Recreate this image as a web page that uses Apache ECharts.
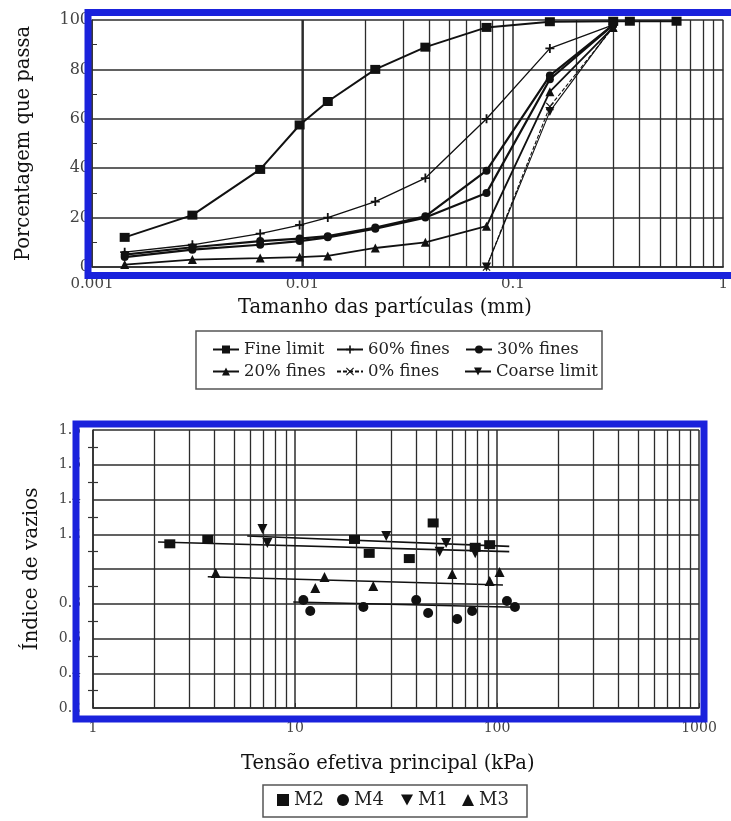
<!DOCTYPE html>
<html><head><meta charset="utf-8">
<script src="https://cdn.jsdelivr.net/npm/echarts@6/dist/echarts.min.js"></script>
<style>html,body{margin:0;padding:0;background:#fff}#c{width:731px;height:821px}</style>
</head><body><div id="c"></div>
<script>
// ---------- top chart: grain size distribution ----------
const sizes       = [0.00143, 0.0030, 0.0063, 0.0097, 0.0132, 0.0222, 0.0384, 0.075, 0.15, 0.3, 0.36, 0.6];
const fineLimit   = [12, 21, 39.5, 57.5, 67, 80, 89, 97, 99.3, 99.5, 99.5, 99.5];
const fines60     = [6, 9, 13.5, 17, 20, 26.5, 36, 60, 88.5, 98, null, null];
const fines30     = [4, 7, 9, 10.5, 12, 15.5, 20, 30, 76, 98, null, null];
const finesOther  = [5, 8, 10.5, 11.5, 12.5, 16, 20.5, 39, 77.5, 98, null, null];
const fines20     = [1, 3, 3.6, 4, 4.5, 7.7, 10, 16.5, 71, 97, null, null];
const fines0      = [null, null, null, null, null, null, null, 0, 65, 97, null, null];
const coarseLimit = [null, null, null, null, null, null, null, 0, 63, 97.5, null, null];
const topXTicks = ['0.001', '0.01', '0.1', '1'];
const topYTicks = ['0', '20', '40', '60', '80', '100'];
const topDecades = [0.001, 0.01, 0.1];

// ---------- bottom chart: void ratio vs effective stress ----------
const m2Stress = [2.4, 3.7, 19.7, 23.3, 36.8, 48.3, 78, 92];
const m2Void   = [1.145, 1.17, 1.17, 1.09, 1.06, 1.265, 1.125, 1.14];
const m4Stress = [11.0, 11.9, 21.8, 39.8, 45.6, 63.5, 75.3, 112, 122.7];
const m4Void   = [0.822, 0.758, 0.781, 0.822, 0.747, 0.712, 0.758, 0.816, 0.781];
const m1Stress = [6.9, 7.3, 28.3, 52, 56, 78];
const m1Void   = [1.23, 1.15, 1.19, 1.10, 1.15, 1.09];
const m3Stress = [4.05, 12.6, 14.0, 24.4, 60, 92, 103];
const m3Void   = [0.977, 0.891, 0.954, 0.902, 0.971, 0.931, 0.983];
const m2TrendStress = [2.1, 115],  m2TrendVoid = [1.155, 1.10];
const m1TrendStress = [5.8, 115],  m1TrendVoid = [1.19, 1.13];
const m3TrendStress = [3.7, 107],  m3TrendVoid = [0.955, 0.908];
const m4TrendStress = [9.8, 125],  m4TrendVoid = [0.81, 0.78];
const botXTicks = ['1', '10', '100', '1000'];
const botYTicks = ['0.2', '0.4', '0.6', '0.8', '', '1.2', '1.4', '1.6', '1.8'];
const botDecades = [1, 10, 100];
const minorMult = [2, 3, 4, 5, 6, 7, 8, 9];

const serif = '"DejaVu Serif", "Liberation Serif", serif';
const ink = '#111';
const gridCol = '#2c2c2c';
const blue = '#1a22dc';

const pairs = (xs, ys) => xs.map((x, i) => ys[i] == null ? null : [x, ys[i]]).filter(p => p);
const minorLines = decs => {
  const out = [];
  decs.forEach(d => minorMult.forEach(m => out.push({ xAxis: d * m })));
  return out;
};
const vLines = decs => ({
  silent: true, symbol: ['none', 'none'], label: { show: false },
  lineStyle: { color: gridCol, width: 1.3, type: 'solid' },
  emphasis: { disabled: true }, animation: false,
  data: minorLines(decs)
});

const plusPath = 'path://M4,0h2v4h4v2h-4v4h-2v-4h-4v-2h4z';
const xPath = 'path://M1,0L5,4L9,0L10,1L6,5L10,9L9,10L5,6L1,10L0,9L4,5L0,1Z';
const downTri = 'path://M0,0L10,0L5,9Z';

function topLine(name, ys, symbol, size, width, extra) {
  return Object.assign({
    name, type: 'line', xAxisIndex: 0, yAxisIndex: 0,
    data: pairs(sizes, ys), symbol, symbolSize: size,
    itemStyle: { color: ink }, lineStyle: { color: ink, width },
    z: 5
  }, extra || {});
}
function trend(xs, ys) {
  return { type: 'line', xAxisIndex: 1, yAxisIndex: 2, data: pairs(xs, ys), symbol: 'none',
    lineStyle: { color: ink, width: 1.6 }, silent: true, z: 4 };
}
function scat(name, xs, ys, symbol, size) {
  return { name, type: 'scatter', xAxisIndex: 1, yAxisIndex: 2, data: pairs(xs, ys),
    symbol, symbolSize: size, itemStyle: { color: ink, opacity: 1 }, z: 6 };
}
function leg(name, left, top, w, h, fs) {
  return { data: [name], left, top, padding: 0, itemGap: 0, itemWidth: w, itemHeight: h,
    selectedMode: false, textStyle: { fontFamily: serif, fontSize: fs, color: '#222' } };
}
const labelStyle = { fontFamily: serif, color: '#444' };

const option = {
  animation: false,
  backgroundColor: '#fff',
  textStyle: { fontFamily: serif },
  title: [
    { text: 'Tamanho das partículas (mm)', left: 233, top: 293,
      textStyle: { fontFamily: serif, fontSize: 19.5, fontWeight: 'normal', color: ink } },
    { text: 'Tensão efetiva principal (kPa)', left: 236, top: 749,
      textStyle: { fontFamily: serif, fontSize: 19.5, fontWeight: 'normal', color: ink } }
  ],
  grid: [
    { left: 92, top: 20, width: 639, height: 247 },
    { left: 93, top: 430, width: 606, height: 278 }
  ],
  xAxis: [
    { gridIndex: 0, type: 'log', logBase: 10, min: 0.001, max: 1,
      axisLine: { show: true, onZero: false, lineStyle: { color: gridCol, width: 1.5 } },
      axisTick: { show: false },
      axisLabel: Object.assign({ margin: 10, fontSize: 15,
        formatter: v => topXTicks[Math.round(Math.log10(v)) + 3] }, labelStyle),
      splitLine: { show: true, lineStyle: { color: gridCol, width: 1.5 } } },
    { gridIndex: 1, type: 'log', logBase: 10, min: 1, max: 1000,
      axisLine: { show: true, onZero: false, lineStyle: { color: gridCol, width: 1.5 } },
      axisTick: { show: true, inside: true, length: 5, lineStyle: { color: gridCol } },
      axisLabel: Object.assign({ margin: 13, fontSize: 14,
        formatter: v => botXTicks[Math.round(Math.log10(v))] }, labelStyle),
      splitLine: { show: true, lineStyle: { color: gridCol, width: 1.5 } } }
  ],
  yAxis: [
    { gridIndex: 0, type: 'value', min: 0, max: 100, interval: 20,
      name: 'Porcentagem que passa', nameLocation: 'middle', nameGap: 58, nameRotate: 90,
      nameTextStyle: { fontFamily: serif, fontSize: 19.5, color: ink },
      axisLine: { show: true, lineStyle: { color: gridCol, width: 1.5 } },
      axisTick: { show: false, inside: true },
      minorTick: { show: true, splitNumber: 2, length: 5, lineStyle: { color: '#333', width: 1 } },
      axisLabel: Object.assign({ margin: 2, fontSize: 16,
        formatter: v => topYTicks[Math.round(v / 20)] }, labelStyle),
      splitLine: { show: true, lineStyle: { color: gridCol, width: 1.5 } } },
    { gridIndex: 0, type: 'value', min: 0, max: 100, interval: 20, show: false },
    { gridIndex: 1, type: 'value', min: 0.2, max: 1.8, interval: 0.2,
      name: 'Índice de vazios', nameLocation: 'middle', nameGap: 51, nameRotate: 90,
      nameTextStyle: { fontFamily: serif, fontSize: 20, color: ink },
      axisLine: { show: true, lineStyle: { color: gridCol, width: 1.5 } },
      axisTick: { show: false },
      minorTick: { show: true, splitNumber: 2, length: 5, lineStyle: { color: '#333', width: 1.2 } },
      axisLabel: Object.assign({ margin: 12, fontSize: 14,
        formatter: v => botYTicks[Math.round(v / 0.2) - 1] }, labelStyle),
      splitLine: { show: true, lineStyle: { color: gridCol, width: 1.5 } } },
    { gridIndex: 1, type: 'value', min: 0.2, max: 1.8, interval: 0.2, position: 'left', offset: 0,
      axisLine: { show: false }, axisLabel: { show: false }, splitLine: { show: false },
      axisTick: { show: false, inside: true },
      minorTick: { show: true, splitNumber: 2, length: 5, lineStyle: { color: '#333', width: 1.2 } } }
  ],
  legend: [
    leg('Fine limit', 212, 341, 26, 10, 16.5), leg('60% fines', 336, 341, 26, 10, 16.5), leg('30% fines', 465, 341, 26, 10, 16.5),
    leg('20% fines', 212, 363, 26, 10, 16.5), leg('0% fines', 336, 363, 26, 10, 16.5), leg('Coarse limit', 464, 363, 26, 10, 16.5),
    leg('M2', 277, 791, 12, 12, 18), leg('M4', 337, 791, 12, 12, 18), leg('M1', 401, 791, 12, 12, 18), leg('M3', 462, 791, 12, 12, 18)
  ],
  graphic: [
    { type: 'rect', z: 100, silent: true, shape: { x: 88, y: 12.5, width: 700, height: 263 },
      style: { fill: 'none', stroke: blue, lineWidth: 7 } },
    { type: 'rect', z: 100, silent: true, shape: { x: 76, y: 424, width: 628, height: 295 },
      style: { fill: 'none', stroke: blue, lineWidth: 7 } },
    { type: 'rect', z: 0, silent: true, shape: { x: 196, y: 331, width: 406, height: 58 },
      style: { fill: 'none', stroke: '#555', lineWidth: 1.5 } },
    { type: 'rect', z: 0, silent: true, shape: { x: 263, y: 785, width: 264, height: 32 },
      style: { fill: 'none', stroke: '#555', lineWidth: 1.5 } }
  ],
  series: [
    { type: 'line', xAxisIndex: 0, yAxisIndex: 0, data: [], silent: true, z: 1, markLine: vLines(topDecades) },
    topLine('Fine limit', fineLimit, 'rect', [10, 9], 2),
    topLine('60% fines', fines60, plusPath, 9, 1.3),
    topLine('30% fines', fines30, 'circle', 8, 2.2),
    topLine('outra curva', finesOther, 'circle', 8, 2.2),
    topLine('20% fines', fines20, 'triangle', 9, 1.8),
    topLine('0% fines', fines0, xPath, 8, 1.1, { lineStyle: { color: ink, width: 1.1, type: [4, 2] } }),
    topLine('Coarse limit', coarseLimit, downTri, 9, 1.1),

    { type: 'line', xAxisIndex: 1, yAxisIndex: 2, data: [], silent: true, z: 1, markLine: vLines(botDecades) },
    trend(m2TrendStress, m2TrendVoid),
    trend(m1TrendStress, m1TrendVoid),
    trend(m3TrendStress, m3TrendVoid),
    trend(m4TrendStress, m4TrendVoid),
    scat('M2', m2Stress, m2Void, 'rect', [11, 9]),
    scat('M4', m4Stress, m4Void, 'circle', 10),
    scat('M1', m1Stress, m1Void, downTri, 10),
    scat('M3', m3Stress, m3Void, 'triangle', 10)
  ]
};
const chart = echarts.init(document.getElementById('c'), null, { renderer: 'canvas' });
chart.setOption(option);
</script>
</body></html>
